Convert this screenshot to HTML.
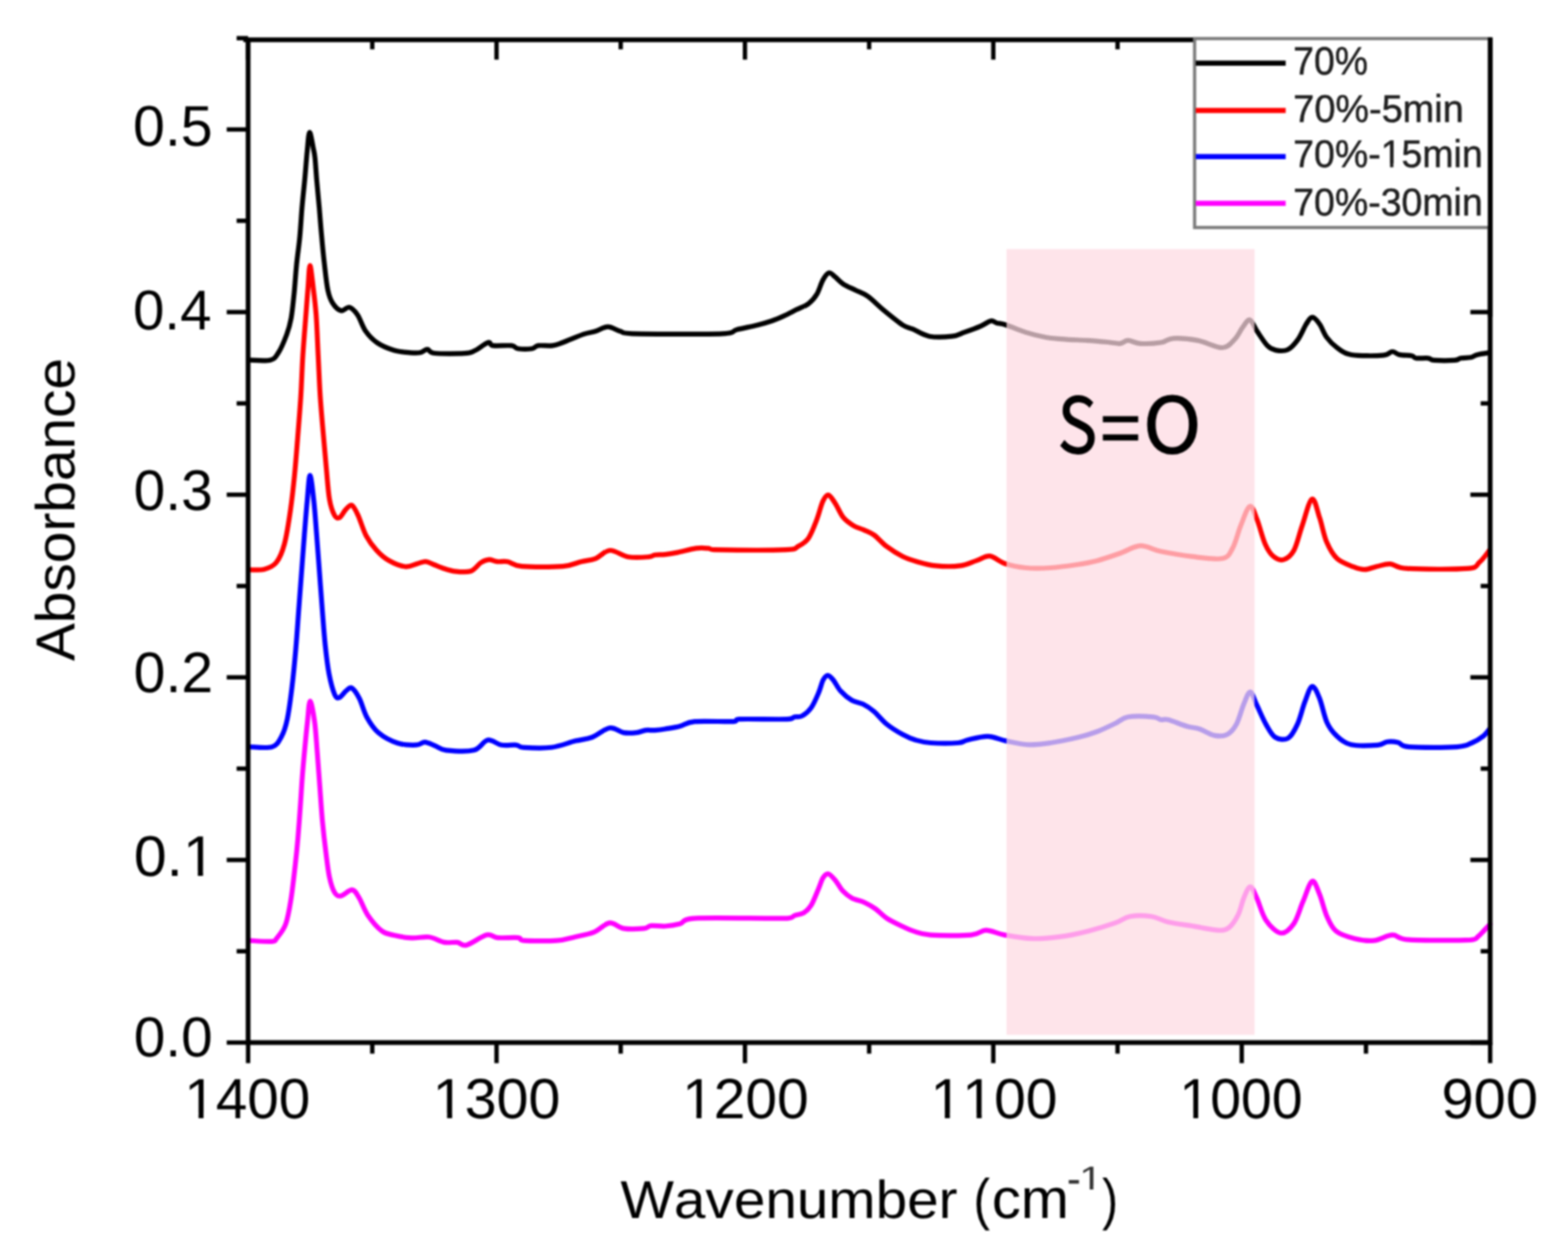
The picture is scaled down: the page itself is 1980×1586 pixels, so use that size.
<!DOCTYPE html>
<html><head><meta charset="utf-8"><style>
html,body{margin:0;padding:0;background:#fff;}
body{width:1980px;height:1586px;overflow:hidden;}
svg{display:block;filter:blur(1px);}
text{font-family:"Liberation Sans",Arial,sans-serif;font-kerning:none;text-rendering:geometricPrecision;}
</style></head><body>
<svg width="1980" height="1586" viewBox="0 0 1980 1586">
<rect width="1980" height="1586" fill="#fff"/>
<g fill="none" stroke-width="6.2" stroke-linejoin="round" stroke-linecap="round"><path d="M315.0 454.7 C319.4 454.7 335.1 456.3 341.2 454.7 C347.3 453.1 348.1 450.7 351.6 445.3 C355.1 439.9 359.3 429.7 362.0 422.5 C364.7 415.3 366.0 410.7 367.6 402.0 C369.2 393.3 370.2 381.8 371.4 370.5 C372.5 359.2 373.3 346.0 374.5 334.0 C375.7 322.0 377.5 310.6 378.6 298.7 C379.7 286.8 380.3 274.8 381.3 262.8 C382.3 250.8 383.7 238.9 384.8 226.9 C385.9 214.9 386.9 200.9 387.9 191.0 C388.9 181.1 389.6 167.9 390.9 167.2 C392.2 166.5 394.5 181.5 395.6 187.0 C396.8 192.5 397.1 193.3 397.8 200.0 C398.5 206.7 399.0 216.4 399.9 226.9 C400.8 237.4 402.1 250.8 403.2 262.8 C404.2 274.8 405.1 287.2 406.2 298.7 C407.2 310.2 408.2 320.7 409.5 332.0 C410.8 343.3 412.2 357.8 414.0 366.3 C415.8 374.8 417.4 378.7 420.2 383.0 C423.0 387.3 427.1 391.4 430.6 392.3 C434.1 393.2 437.5 387.2 441.0 388.1 C444.5 389.0 447.9 392.5 451.4 397.5 C454.9 402.5 457.6 412.4 461.8 418.3 C466.0 424.2 470.5 428.9 476.4 432.9 C482.3 436.9 490.3 440.1 497.2 442.2 C504.1 444.3 512.5 444.8 518.0 445.3 C523.5 445.8 526.9 446.0 530.5 445.3 C534.1 444.6 536.8 441.1 539.8 441.2 C542.8 441.3 540.7 445.2 548.5 446.0 C556.3 446.8 578.0 446.7 586.5 446.2 C595.0 445.7 594.5 445.1 599.5 442.8 C604.5 440.5 612.4 433.6 616.3 432.5 C620.2 431.4 617.8 435.8 622.8 436.4 C627.8 437.0 640.8 435.8 646.0 436.4 C651.2 437.0 649.5 439.6 653.8 440.2 C658.1 440.8 667.6 440.8 671.9 440.2 C676.2 439.6 675.3 437.0 679.6 436.4 C683.9 435.8 692.5 437.0 697.7 436.4 C702.9 435.8 704.2 434.9 710.7 432.5 C717.2 430.1 729.6 424.5 736.5 422.1 C743.4 419.7 746.8 419.9 752.0 418.3 C757.2 416.7 762.4 412.6 767.6 412.6 C772.8 412.6 777.9 416.8 783.1 418.3 C788.3 419.8 783.1 420.9 798.6 421.4 C820.1 421.9 890.4 422.3 912.4 421.4 C930.5 420.5 923.2 418.0 930.5 416.2 C937.8 414.4 949.1 412.3 956.4 410.5 C963.7 408.7 968.9 407.2 974.5 405.3 C980.1 403.4 984.8 401.3 990.0 398.9 C995.2 396.5 1000.3 393.7 1005.5 391.1 C1010.7 388.5 1016.7 386.6 1021.0 383.4 C1025.3 380.2 1028.4 376.7 1031.4 371.7 C1034.4 366.7 1036.5 358.1 1039.1 353.6 C1041.7 349.1 1044.3 345.2 1046.9 344.6 C1049.5 344.0 1051.6 347.3 1054.6 349.7 C1057.6 352.1 1060.7 356.0 1065.0 358.8 C1069.3 361.6 1075.3 363.9 1080.5 366.5 C1085.7 369.1 1090.0 370.0 1096.0 374.3 C1102.0 378.6 1109.4 386.4 1116.7 392.4 C1124.0 398.4 1134.0 406.6 1140.0 410.5 C1146.0 414.4 1147.3 413.3 1152.9 415.7 C1158.5 418.1 1165.4 423.2 1173.6 424.7 C1181.8 426.2 1194.8 425.5 1202.1 424.7 C1209.4 423.9 1211.6 421.8 1217.6 419.6 C1223.6 417.5 1232.7 414.2 1238.3 411.8 C1243.9 409.4 1247.8 406.0 1251.2 405.3 C1254.7 404.6 1256.0 407.1 1259.0 407.9 C1262.0 408.7 1263.3 408.1 1269.3 410.0 C1275.3 411.9 1286.6 416.9 1295.2 419.6 C1303.8 422.3 1312.4 424.5 1321.0 426.0 C1329.6 427.5 1338.3 428.0 1346.9 428.6 C1355.5 429.2 1364.1 429.3 1372.7 429.9 C1381.3 430.5 1391.7 431.4 1398.6 432.0 C1405.5 432.6 1409.8 434.2 1414.1 433.8 C1418.4 433.4 1420.2 429.9 1424.5 429.9 C1428.8 429.9 1433.1 433.4 1440.0 433.8 C1446.9 434.2 1459.0 433.6 1465.9 432.5 C1472.8 431.4 1473.7 427.7 1481.4 427.3 C1489.2 426.9 1502.1 427.9 1512.4 429.9 C1522.7 431.8 1535.6 439.2 1543.4 439.0 C1551.2 438.8 1554.7 432.9 1559.0 428.6 C1563.3 424.3 1566.1 417.2 1569.3 413.1 C1572.5 409.0 1575.3 403.1 1578.3 404.0 C1581.3 404.9 1583.7 412.9 1587.4 418.3 C1591.1 423.7 1596.4 432.4 1600.3 436.4 C1604.2 440.4 1606.4 441.2 1610.7 442.1 C1615.0 443.0 1621.5 443.8 1626.2 441.5 C1630.9 439.2 1635.2 434.0 1639.1 428.6 C1643.0 423.2 1646.5 413.9 1649.5 409.2 C1652.5 404.5 1654.4 400.7 1657.2 400.7 C1660.0 400.7 1663.3 405.0 1666.3 409.2 C1669.3 413.4 1671.6 421.0 1675.3 426.0 C1679.0 431.0 1683.1 435.3 1688.3 439.0 C1693.5 442.7 1696.7 446.4 1706.4 448.0 C1716.1 449.6 1737.9 449.4 1746.5 448.7 C1755.1 448.0 1754.6 444.1 1758.1 444.0 C1761.5 443.9 1763.1 447.0 1767.2 447.9 C1771.3 448.8 1779.2 448.5 1782.7 449.2 C1786.2 449.9 1784.5 451.8 1787.9 452.3 C1791.4 452.8 1799.5 451.9 1803.4 452.3 C1807.3 452.7 1805.5 454.5 1811.1 454.9 C1816.7 455.3 1831.4 455.3 1837.0 454.9 C1842.6 454.5 1841.3 452.9 1844.7 452.3 C1848.1 451.7 1854.1 452.0 1857.6 451.3 C1861.0 450.6 1861.5 448.9 1865.4 447.9 C1869.3 446.9 1878.3 445.7 1880.9 445.3" stroke="#000"/><path d="M315.0 719.4 C318.1 719.3 327.7 720.5 333.3 719.0 C338.9 717.5 344.5 715.7 348.8 710.4 C353.1 705.1 356.1 698.3 359.1 687.1 C362.1 675.9 364.8 657.9 366.9 643.2 C369.0 628.6 370.5 614.3 372.0 599.2 C373.5 584.1 374.6 569.1 375.9 552.7 C377.2 536.3 378.7 518.2 379.8 501.0 C380.9 483.8 381.3 466.5 382.4 449.3 C383.5 432.1 385.2 411.8 386.3 397.6 C387.4 383.4 388.0 374.4 388.9 364.0 C389.8 353.6 390.3 335.9 391.4 335.5 C392.5 335.1 394.0 351.0 395.3 361.4 C396.6 371.8 398.1 383.0 399.2 397.6 C400.3 412.2 400.9 432.1 401.8 449.3 C402.7 466.5 403.3 484.6 404.4 501.0 C405.5 517.4 406.9 532.4 408.2 547.5 C409.5 562.6 410.8 577.7 412.1 591.5 C413.4 605.3 414.3 620.3 416.0 630.2 C417.7 640.1 420.4 647.0 422.5 650.9 C424.6 654.8 426.5 654.8 428.9 653.5 C431.3 652.2 434.1 645.8 436.7 643.2 C439.3 640.6 441.8 636.7 444.4 638.0 C447.0 639.3 449.2 644.4 452.2 650.9 C455.2 657.4 458.6 669.5 462.5 676.8 C466.4 684.1 470.8 689.7 475.5 694.9 C480.2 700.1 485.0 704.4 491.0 707.8 C497.0 711.2 505.7 714.9 511.7 715.5 C517.7 716.1 522.9 712.8 527.2 711.7 C531.5 710.6 534.0 708.9 537.5 709.1 C541.0 709.3 544.5 711.7 547.9 713.0 C551.3 714.3 553.8 715.6 558.1 717.0 C562.4 718.4 567.6 720.6 573.6 721.3 C579.6 722.0 588.7 723.1 594.3 721.3 C599.9 719.5 603.3 713.0 607.2 710.5 C611.1 708.0 614.2 706.8 617.6 706.6 C621.0 706.4 624.0 708.8 627.9 709.2 C631.8 709.6 635.7 708.2 640.9 709.2 C646.1 710.2 647.4 714.1 659.0 715.1 C670.6 716.1 698.2 716.1 710.7 715.1 C723.2 714.1 727.1 710.8 734.0 709.2 C740.9 707.6 746.0 707.7 752.0 705.3 C758.0 702.9 763.3 695.4 770.2 695.0 C777.1 694.6 785.2 701.8 793.4 703.2 C801.6 704.6 813.7 703.6 819.3 703.2 C824.9 702.8 823.5 701.2 827.0 700.7 C830.5 700.2 835.2 700.6 840.0 700.1 C844.8 699.6 849.0 698.9 855.5 697.6 C862.0 696.3 872.3 693.3 878.8 692.4 C885.3 691.5 890.4 692.1 894.3 692.4 C898.2 692.7 894.3 693.9 902.1 694.2 C918.5 694.5 974.9 694.9 992.6 694.2 C1008.1 693.5 1003.4 692.3 1008.1 689.8 C1012.8 687.3 1017.1 685.0 1021.0 679.4 C1024.9 673.8 1028.4 664.0 1031.4 656.2 C1034.4 648.5 1036.6 638.1 1039.1 632.9 C1041.5 627.7 1043.5 624.7 1046.1 625.1 C1048.7 625.5 1051.4 630.8 1054.6 635.5 C1057.8 640.2 1061.1 648.9 1065.0 653.6 C1068.9 658.3 1073.6 661.3 1077.9 663.9 C1082.2 666.5 1086.5 667.1 1090.8 669.1 C1095.1 671.1 1099.0 672.2 1103.8 675.6 C1108.5 679.0 1113.3 685.3 1119.3 689.8 C1125.3 694.3 1133.5 699.5 1140.0 702.7 C1146.5 705.9 1151.2 707.2 1158.1 709.2 C1165.0 711.2 1172.4 713.5 1181.4 714.4 C1190.5 715.3 1203.8 715.5 1212.4 714.4 C1221.0 713.3 1226.8 709.9 1233.1 707.9 C1239.3 705.9 1243.9 701.6 1249.9 702.2 C1255.9 702.9 1261.8 709.3 1269.3 711.8 C1276.8 714.3 1285.7 716.1 1295.2 717.0 C1304.7 717.9 1315.4 717.7 1326.2 717.0 C1337.0 716.3 1349.9 714.5 1359.8 713.0 C1369.7 711.5 1376.7 710.3 1385.7 707.9 C1394.8 705.5 1405.0 701.9 1414.1 698.8 C1423.1 695.7 1431.4 689.6 1440.0 689.2 C1448.6 688.8 1455.1 694.0 1465.9 696.3 C1476.7 698.5 1491.7 701.2 1504.6 702.7 C1517.5 704.2 1534.8 707.0 1543.4 705.3 C1552.0 703.6 1552.5 699.3 1556.4 692.4 C1560.3 685.5 1563.1 672.7 1566.7 663.9 C1570.3 655.1 1574.8 640.7 1578.3 639.4 C1581.8 638.1 1584.2 648.2 1587.4 656.2 C1590.6 664.2 1594.2 679.5 1597.7 687.2 C1601.2 695.0 1604.2 699.5 1608.1 702.7 C1612.0 705.9 1616.7 707.9 1621.0 706.6 C1625.3 705.3 1630.0 702.1 1633.9 695.0 C1637.8 687.9 1640.5 674.7 1644.3 663.9 C1648.1 653.1 1653.0 632.0 1656.7 630.3 C1660.4 628.6 1663.2 644.5 1666.3 653.6 C1669.4 662.7 1671.6 676.0 1675.3 684.6 C1679.0 693.2 1682.7 700.1 1688.3 705.3 C1693.9 710.5 1703.1 713.4 1708.9 715.7 C1714.7 718.0 1718.3 719.3 1723.3 719.2 C1728.3 719.1 1733.4 716.5 1738.8 715.3 C1744.2 714.1 1749.1 711.8 1755.6 712.2 C1762.0 712.6 1761.3 717.0 1777.5 717.9 C1793.7 718.8 1837.4 719.2 1852.5 717.9 C1867.6 716.6 1863.3 714.1 1868.0 710.2 C1872.7 706.3 1878.8 697.3 1880.9 694.7" stroke="#f00"/><path d="M315.0 943.1 C319.8 943.1 336.9 945.3 343.6 943.1 C350.4 940.9 352.3 935.8 355.5 930.0 C358.7 924.2 360.5 918.8 362.7 908.4 C364.9 898.0 366.9 882.4 368.7 867.6 C370.5 852.8 372.1 835.7 373.5 819.7 C374.9 803.7 375.9 787.8 377.1 771.8 C378.3 755.8 379.5 739.8 380.7 723.8 C381.9 707.8 383.1 691.1 384.3 675.9 C385.5 660.7 386.7 645.3 387.9 632.7 C389.1 620.1 390.1 600.4 391.5 600.4 C392.9 600.4 394.9 620.1 396.3 632.7 C397.7 645.3 398.7 660.7 399.9 675.9 C401.1 691.1 402.3 707.8 403.5 723.8 C404.7 739.8 405.9 756.6 407.1 771.8 C408.3 787.0 409.3 801.7 410.7 814.9 C412.1 828.1 413.5 840.5 415.5 850.9 C417.5 861.3 420.5 872.2 422.7 877.2 C424.9 882.2 426.2 881.6 428.6 880.8 C431.0 880.0 434.4 874.4 437.0 872.4 C439.6 870.4 441.4 867.2 444.2 868.8 C447.0 870.4 450.6 875.8 453.8 882.0 C457.0 888.2 459.4 898.8 463.4 906.0 C467.4 913.2 471.4 919.8 477.8 925.2 C484.2 930.6 493.8 935.7 501.8 938.3 C509.8 940.9 519.9 940.9 525.7 940.7 C531.5 940.5 532.5 936.9 536.5 937.1 C540.5 937.3 545.2 940.2 549.7 941.9 C554.2 943.6 555.2 946.4 563.3 947.3 C571.4 948.2 589.5 949.4 598.3 947.3 C607.0 945.2 610.0 935.6 615.8 934.5 C621.6 933.4 627.3 939.8 633.3 940.8 C639.3 941.8 647.3 940.3 652.0 940.8 C656.7 941.3 653.9 943.3 661.3 943.8 C668.7 944.3 685.4 945.2 696.3 943.8 C707.2 942.4 718.0 937.7 726.6 935.6 C735.2 933.5 740.4 933.7 747.6 931.0 C754.8 928.3 763.2 920.3 769.8 919.3 C776.4 918.3 781.7 924.1 787.3 925.1 C792.9 926.1 798.9 925.6 803.6 925.1 C808.3 924.6 811.4 922.6 815.3 922.1 C819.2 921.6 822.8 922.4 826.9 922.1 C831.0 921.8 834.7 921.4 840.0 920.5 C845.3 919.6 852.5 918.6 858.7 917.0 C864.9 915.4 866.0 912.1 877.3 911.1 C888.6 910.1 917.0 911.6 926.3 911.1 C933.3 910.6 926.3 908.6 933.3 908.1 C944.6 907.6 982.3 908.6 994.0 908.1 C1003.3 907.6 1000.2 906.0 1003.3 905.3 C1006.4 904.6 1009.1 906.0 1012.6 904.1 C1016.1 902.2 1020.8 898.6 1024.3 893.7 C1027.8 888.9 1031.1 880.8 1033.6 875.0 C1036.1 869.2 1037.5 862.4 1039.4 858.7 C1041.4 855.0 1043.2 852.8 1045.3 852.8 C1047.4 852.8 1049.6 855.4 1052.3 858.7 C1055.0 862.0 1057.7 868.4 1061.6 872.7 C1065.5 877.0 1070.9 881.6 1075.6 884.3 C1080.3 887.0 1084.9 886.7 1089.6 889.0 C1094.3 891.3 1098.5 894.0 1103.6 898.3 C1108.6 902.6 1113.8 909.7 1119.9 914.6 C1126.0 919.5 1133.9 924.2 1140.0 927.5 C1146.1 930.8 1150.5 932.8 1156.3 934.5 C1162.1 936.2 1166.0 937.4 1175.0 938.0 C1184.0 938.6 1202.2 938.6 1210.0 938.0 C1217.8 937.4 1215.4 935.9 1221.6 934.5 C1227.8 933.1 1239.1 929.6 1247.3 929.8 C1255.5 930.0 1262.0 933.9 1270.6 935.6 C1279.1 937.4 1289.3 939.9 1298.6 940.3 C1307.9 940.7 1316.1 939.5 1326.6 938.0 C1337.1 936.5 1351.9 933.3 1361.6 931.0 C1371.3 928.7 1377.1 926.9 1384.9 924.0 C1392.7 921.1 1401.7 916.6 1408.3 913.5 C1414.9 910.4 1416.6 906.7 1424.6 905.3 C1432.6 903.9 1449.4 904.7 1456.3 905.3 C1463.2 905.9 1462.6 908.2 1465.7 908.8 C1468.8 909.4 1469.6 907.4 1475.0 908.8 C1480.4 910.2 1491.7 915.0 1498.3 917.0 C1504.9 919.0 1508.8 918.6 1514.6 920.5 C1520.4 922.4 1527.5 927.4 1533.3 928.6 C1539.1 929.8 1544.9 929.8 1549.6 927.5 C1554.3 925.2 1557.8 921.0 1561.3 914.6 C1564.8 908.2 1567.7 895.8 1570.6 889.0 C1573.5 882.2 1576.1 873.6 1578.8 873.8 C1581.5 874.0 1583.7 883.4 1587.0 890.2 C1590.3 897.0 1594.7 907.8 1598.6 914.6 C1602.5 921.4 1605.6 928.1 1610.3 931.0 C1615.0 933.9 1621.9 934.8 1626.6 932.1 C1631.3 929.4 1634.8 922.2 1638.3 914.6 C1641.8 907.0 1644.5 894.7 1647.6 886.7 C1650.7 878.7 1653.8 867.6 1656.9 866.8 C1660.0 866.0 1663.2 874.4 1666.3 882.0 C1669.4 889.6 1672.1 904.5 1675.6 912.3 C1679.1 920.1 1682.2 923.9 1687.3 928.6 C1692.3 933.3 1697.2 938.3 1705.9 940.3 C1714.6 942.3 1732.1 941.4 1739.7 940.8 C1747.3 940.2 1747.0 937.3 1751.3 936.8 C1755.6 936.2 1760.6 936.5 1765.3 937.5 C1770.0 938.5 1766.8 942.2 1779.3 943.1 C1791.8 944.0 1826.8 944.0 1840.0 943.1 C1853.2 942.2 1853.2 940.2 1858.7 938.0 C1864.2 935.8 1869.0 932.7 1872.7 929.8 C1876.4 926.9 1879.5 922.0 1880.9 920.5" stroke="#00f"/><path d="M315.0 1187.7 C319.7 1187.9 337.3 1189.3 343.1 1188.8 C348.9 1188.2 346.8 1188.1 349.7 1184.4 C352.6 1180.7 357.9 1174.8 360.8 1166.7 C363.8 1158.6 365.4 1148.3 367.4 1135.8 C369.4 1123.3 371.4 1104.6 372.9 1091.7 C374.4 1078.8 375.1 1071.5 376.2 1058.6 C377.3 1045.7 378.6 1027.4 379.5 1014.5 C380.4 1001.6 380.8 993.2 381.7 981.4 C382.6 969.6 383.9 955.6 385.0 943.8 C386.1 932.0 387.2 920.5 388.3 910.8 C389.4 901.1 390.1 885.4 391.6 885.4 C393.1 885.4 395.7 900.3 397.2 910.8 C398.7 921.3 399.4 934.7 400.5 948.3 C401.6 961.9 402.7 977.7 403.8 992.4 C404.9 1007.1 405.8 1022.5 407.1 1036.5 C408.4 1050.5 410.0 1064.4 411.5 1076.2 C413.0 1088.0 414.1 1098.6 415.9 1107.1 C417.7 1115.6 420.1 1123.0 422.5 1127.0 C424.9 1131.0 426.6 1132.0 430.3 1131.4 C434.0 1130.9 440.8 1123.3 444.6 1123.7 C448.5 1124.1 450.1 1128.3 453.4 1133.6 C456.7 1138.9 459.7 1148.7 464.5 1155.7 C469.3 1162.7 476.6 1171.3 482.1 1175.5 C487.6 1179.7 491.4 1179.5 497.6 1181.0 C503.9 1182.5 512.2 1184.0 519.6 1184.4 C527.0 1184.8 534.8 1182.4 541.7 1183.3 C548.6 1184.2 555.1 1188.8 561.0 1189.9 C566.9 1191.0 572.6 1189.3 577.3 1189.9 C582.0 1190.5 582.8 1195.0 589.0 1193.4 C595.2 1191.9 608.0 1182.1 614.6 1180.6 C621.2 1179.0 622.0 1183.5 628.6 1184.1 C635.2 1184.7 648.8 1183.5 654.3 1184.1 C659.8 1184.7 654.3 1187.0 661.3 1187.6 C669.5 1188.2 692.4 1188.4 703.3 1187.6 C714.2 1186.8 718.8 1184.7 726.6 1182.9 C734.4 1181.2 742.7 1180.0 749.9 1177.1 C757.1 1174.2 763.6 1166.2 769.8 1165.4 C776.0 1164.6 780.1 1171.2 787.3 1172.4 C794.5 1173.6 807.1 1173.0 812.9 1172.4 C818.7 1171.8 817.8 1169.4 822.3 1168.9 C826.8 1168.4 833.9 1169.9 840.0 1169.5 C846.1 1169.1 852.5 1168.2 858.7 1166.6 C864.9 1164.9 858.7 1160.8 877.3 1159.6 C899.8 1158.4 973.0 1160.2 994.0 1159.6 C1003.3 1159.0 999.8 1157.3 1003.3 1156.1 C1006.8 1154.9 1011.5 1154.8 1015.0 1152.6 C1018.5 1150.4 1021.2 1148.3 1024.3 1143.2 C1027.4 1138.1 1031.1 1128.0 1033.6 1122.2 C1036.1 1116.4 1037.3 1111.4 1039.4 1108.3 C1041.5 1105.2 1043.7 1102.8 1046.4 1103.6 C1049.1 1104.4 1052.9 1109.4 1055.8 1112.9 C1058.7 1116.4 1060.6 1121.1 1063.9 1124.6 C1067.2 1128.1 1070.9 1131.4 1075.6 1133.9 C1080.3 1136.4 1086.9 1137.4 1091.9 1139.7 C1097.0 1142.0 1101.2 1144.6 1105.9 1147.9 C1110.6 1151.2 1114.2 1155.9 1119.9 1159.6 C1125.6 1163.3 1134.3 1167.3 1140.0 1170.0 C1145.7 1172.7 1148.2 1174.1 1154.0 1175.9 C1159.8 1177.7 1163.0 1179.8 1175.0 1180.6 C1187.0 1181.4 1214.6 1181.6 1226.3 1180.6 C1238.0 1179.6 1238.0 1174.7 1245.0 1174.7 C1252.0 1174.7 1258.6 1178.8 1268.3 1180.6 C1278.0 1182.3 1291.6 1184.8 1303.3 1185.2 C1315.0 1185.6 1326.6 1184.5 1338.3 1182.9 C1350.0 1181.4 1361.6 1178.8 1373.3 1175.9 C1385.0 1173.0 1399.4 1168.5 1408.3 1165.4 C1417.2 1162.3 1419.3 1158.6 1426.9 1157.2 C1434.5 1155.8 1446.0 1156.0 1454.0 1157.2 C1462.0 1158.4 1465.7 1162.1 1475.0 1164.2 C1484.3 1166.3 1499.5 1168.3 1510.0 1170.1 C1520.5 1171.8 1531.0 1174.5 1538.0 1174.7 C1545.0 1174.9 1547.7 1174.5 1552.0 1171.2 C1556.3 1167.9 1560.5 1161.1 1563.6 1154.9 C1566.7 1148.7 1568.1 1139.7 1570.6 1133.9 C1573.1 1128.1 1576.1 1119.9 1578.8 1119.9 C1581.5 1119.9 1583.7 1126.9 1587.0 1133.9 C1590.3 1140.9 1593.5 1154.5 1598.6 1161.9 C1603.6 1169.3 1611.5 1177.4 1617.3 1178.2 C1623.1 1179.0 1628.9 1173.2 1633.6 1166.6 C1638.3 1160.0 1641.4 1147.5 1645.3 1138.6 C1649.2 1129.6 1653.4 1114.5 1656.9 1112.9 C1660.4 1111.3 1663.2 1121.8 1666.3 1129.2 C1669.4 1136.6 1672.1 1149.4 1675.6 1157.2 C1679.1 1165.0 1681.5 1171.2 1687.3 1175.9 C1693.1 1180.6 1702.6 1183.2 1710.6 1185.2 C1718.5 1187.2 1727.0 1188.5 1735.0 1187.7 C1743.0 1187.0 1750.9 1180.9 1758.3 1180.7 C1765.7 1180.5 1762.8 1185.6 1779.3 1186.6 C1795.8 1187.6 1842.5 1187.5 1857.0 1186.8 C1866.5 1186.1 1863.7 1184.5 1866.5 1182.5 C1869.3 1180.5 1871.5 1177.6 1874.0 1175.0 C1876.5 1172.4 1880.3 1168.3 1881.6 1167.0" stroke="#f0f"/></g>
<rect x="1271" y="314.5" width="313.2" height="992.2" fill="rgb(254,218,226)" fill-opacity="0.72"/>
<g stroke="#000" stroke-width="5.5" stroke-linecap="butt"><line x1="313.3" y1="1316.5" x2="313.3" y2="1342.5"/><line x1="313.3" y1="50.3" x2="313.3" y2="75.3"/><line x1="470.1" y1="1316.5" x2="470.1" y2="1330.5"/><line x1="470.1" y1="50.3" x2="470.1" y2="62.3"/><line x1="627.0" y1="1316.5" x2="627.0" y2="1342.5"/><line x1="627.0" y1="50.3" x2="627.0" y2="75.3"/><line x1="783.8" y1="1316.5" x2="783.8" y2="1330.5"/><line x1="783.8" y1="50.3" x2="783.8" y2="62.3"/><line x1="940.7" y1="1316.5" x2="940.7" y2="1342.5"/><line x1="940.7" y1="50.3" x2="940.7" y2="75.3"/><line x1="1097.5" y1="1316.5" x2="1097.5" y2="1330.5"/><line x1="1097.5" y1="50.3" x2="1097.5" y2="62.3"/><line x1="1254.3" y1="1316.5" x2="1254.3" y2="1342.5"/><line x1="1254.3" y1="50.3" x2="1254.3" y2="75.3"/><line x1="1411.2" y1="1316.5" x2="1411.2" y2="1330.5"/><line x1="1411.2" y1="50.3" x2="1411.2" y2="62.3"/><line x1="1568.0" y1="1316.5" x2="1568.0" y2="1342.5"/><line x1="1724.9" y1="1316.5" x2="1724.9" y2="1330.5"/><line x1="1881.7" y1="1316.5" x2="1881.7" y2="1342.5"/><line x1="286.3" y1="1316.5" x2="313.3" y2="1316.5"/><line x1="1856.7" y1="1316.5" x2="1881.7" y2="1316.5"/><line x1="298.8" y1="1201.2" x2="313.3" y2="1201.2"/><line x1="1869.7" y1="1201.2" x2="1881.7" y2="1201.2"/><line x1="286.3" y1="1085.9" x2="313.3" y2="1085.9"/><line x1="1856.7" y1="1085.9" x2="1881.7" y2="1085.9"/><line x1="298.8" y1="970.6" x2="313.3" y2="970.6"/><line x1="1869.7" y1="970.6" x2="1881.7" y2="970.6"/><line x1="286.3" y1="855.3" x2="313.3" y2="855.3"/><line x1="1856.7" y1="855.3" x2="1881.7" y2="855.3"/><line x1="298.8" y1="740.0" x2="313.3" y2="740.0"/><line x1="1869.7" y1="740.0" x2="1881.7" y2="740.0"/><line x1="286.3" y1="624.7" x2="313.3" y2="624.7"/><line x1="1856.7" y1="624.7" x2="1881.7" y2="624.7"/><line x1="298.8" y1="509.4" x2="313.3" y2="509.4"/><line x1="1869.7" y1="509.4" x2="1881.7" y2="509.4"/><line x1="286.3" y1="394.1" x2="313.3" y2="394.1"/><line x1="1856.7" y1="394.1" x2="1881.7" y2="394.1"/><line x1="298.8" y1="278.8" x2="313.3" y2="278.8"/><line x1="286.3" y1="163.5" x2="313.3" y2="163.5"/><line x1="298.8" y1="48.2" x2="313.3" y2="48.2"/></g>
<path d="M313.3 50.3 V1316.5 H1881.7 V50.3 M310.3 50.3 H1508" fill="none" stroke="#000" stroke-width="6" stroke-linecap="square"/>
<g fill="#000"><text transform="translate(167.97 184.29) scale(0.9984 1)" font-size="72.46">0.5</text><text transform="translate(168.02 415.51) scale(1.0021 1)" font-size="71.04">0.4</text><text transform="translate(168.80 644.19) scale(0.9923 1)" font-size="72.32">0.3</text><text transform="translate(168.78 874.09) scale(0.9972 1)" font-size="72.32">0.2</text><text transform="translate(168.89 1105.79) scale(1.0309 1)" font-size="72.32">0.1</text><text transform="translate(169.11 1333.70) scale(1.0023 1)" font-size="71.33">0.0</text><text transform="translate(232.72 1411.50) scale(0.9972 1)" font-size="71.75">1400</text><text transform="translate(546.33 1411.90) scale(1.0146 1)" font-size="71.47">1300</text><text transform="translate(861.39 1411.90) scale(1.0052 1)" font-size="71.47">1200</text><text transform="translate(1174.96 1411.90) scale(1.0092 1)" font-size="71.47">1100</text><text transform="translate(1489.27 1411.90) scale(0.9784 1)" font-size="71.47">1000</text><text transform="translate(1820.17 1411.50) scale(1.0239 1)" font-size="71.47">900</text></g>
<rect x="1508.5" y="48.7" width="373" height="238.6" fill="#fff" stroke="#7a7a7a" stroke-width="4"/>
<g stroke-width="6.5"><line x1="1510" y1="79.8" x2="1623.5" y2="79.8" stroke="#000"/><line x1="1510" y1="139.4" x2="1623.5" y2="139.4" stroke="#f00"/><line x1="1510" y1="197.8" x2="1623.5" y2="197.8" stroke="#00f"/><line x1="1510" y1="256.8" x2="1623.5" y2="256.8" stroke="#f0f"/></g>
<line x1="1881.7" y1="47.3" x2="1881.7" y2="400" stroke="#000" stroke-width="6"/>
<g fill="#1e1e1e" stroke="#1e1e1e" stroke-width="0.6"><text transform="translate(1633.08 94.02) scale(0.9524 1)" font-size="49.58">70%</text><text transform="translate(1633.05 154.02) scale(0.9808 1)" font-size="48.75">70%-5min</text><text transform="translate(1633.08 210.82) scale(0.9696 1)" font-size="48.75">70%-15min</text><text transform="translate(1633.08 271.52) scale(0.9696 1)" font-size="48.75">70%-30min</text></g>
<g fill="#000" stroke="#000" stroke-width="1.3"><text transform="translate(1335.57 572.04) scale(0.8647 1)" font-size="97.10" style="font-family:'Noto Sans CJK JP','Liberation Sans',sans-serif">S</text><text transform="translate(1389.66 576.15) scale(0.9526 1)" font-size="95.13" style="font-family:'Noto Sans CJK JP','Liberation Sans',sans-serif">=</text><text transform="translate(1443.45 572.03) scale(1.0147 1)" font-size="97.76" style="font-family:'Noto Sans CJK JP','Liberation Sans',sans-serif">O</text></g>
<g fill="#000"><text transform="translate(783.49 1537.64) scale(1.0620 1)" font-size="67.40">Wavenumber</text><text transform="translate(1229.32 1538.56) scale(0.8732 1)" font-size="71.70">(</text><text transform="translate(1252.60 1537.60) scale(1.0244 1)" font-size="71.19">cm</text><text transform="translate(1347.25 1508.14) scale(0.8974 1)" font-size="58.88" fill="#333">-</text><text transform="translate(1362.71 1501.90) scale(1.2692 1)" font-size="41.72" fill="#333">1</text><text transform="translate(1391.65 1538.56) scale(0.8416 1)" font-size="71.70">)</text></g>
<g fill="#000"><g transform="translate(94.5 835.0) rotate(-90)"><text transform="translate(0.16 -0.68) scale(1.0329 1)" font-size="69.45">Absorbance</text></g></g>
<g fill="#fff"><rect x="235.74" y="1099.69" width="14.07" height="7.30"/><rect x="256.40" y="1099.69" width="13.49" height="7.30"/><rect x="237.17" y="1405.44" width="13.54" height="7.26"/><rect x="257.03" y="1405.44" width="12.98" height="7.26"/><rect x="550.85" y="1405.86" width="13.71" height="7.24"/><rect x="570.97" y="1405.86" width="13.14" height="7.24"/><rect x="865.86" y="1405.86" width="13.59" height="7.24"/><rect x="885.80" y="1405.86" width="13.03" height="7.24"/><rect x="1179.46" y="1405.86" width="13.64" height="7.24"/><rect x="1199.47" y="1405.86" width="13.08" height="7.24"/><rect x="1219.57" y="1405.86" width="13.64" height="7.24"/><rect x="1239.59" y="1405.86" width="13.08" height="7.24"/><rect x="1493.60" y="1405.86" width="13.26" height="7.24"/><rect x="1513.04" y="1405.86" width="12.71" height="7.24"/><rect x="1746.03" y="206.48" width="9.29" height="5.54"/><rect x="1759.49" y="206.48" width="8.92" height="5.54"/><rect x="1365.74" y="1498.08" width="10.28" height="5.02"/><rect x="1380.70" y="1498.08" width="9.87" height="5.02"/></g>
</svg>
</body></html>
